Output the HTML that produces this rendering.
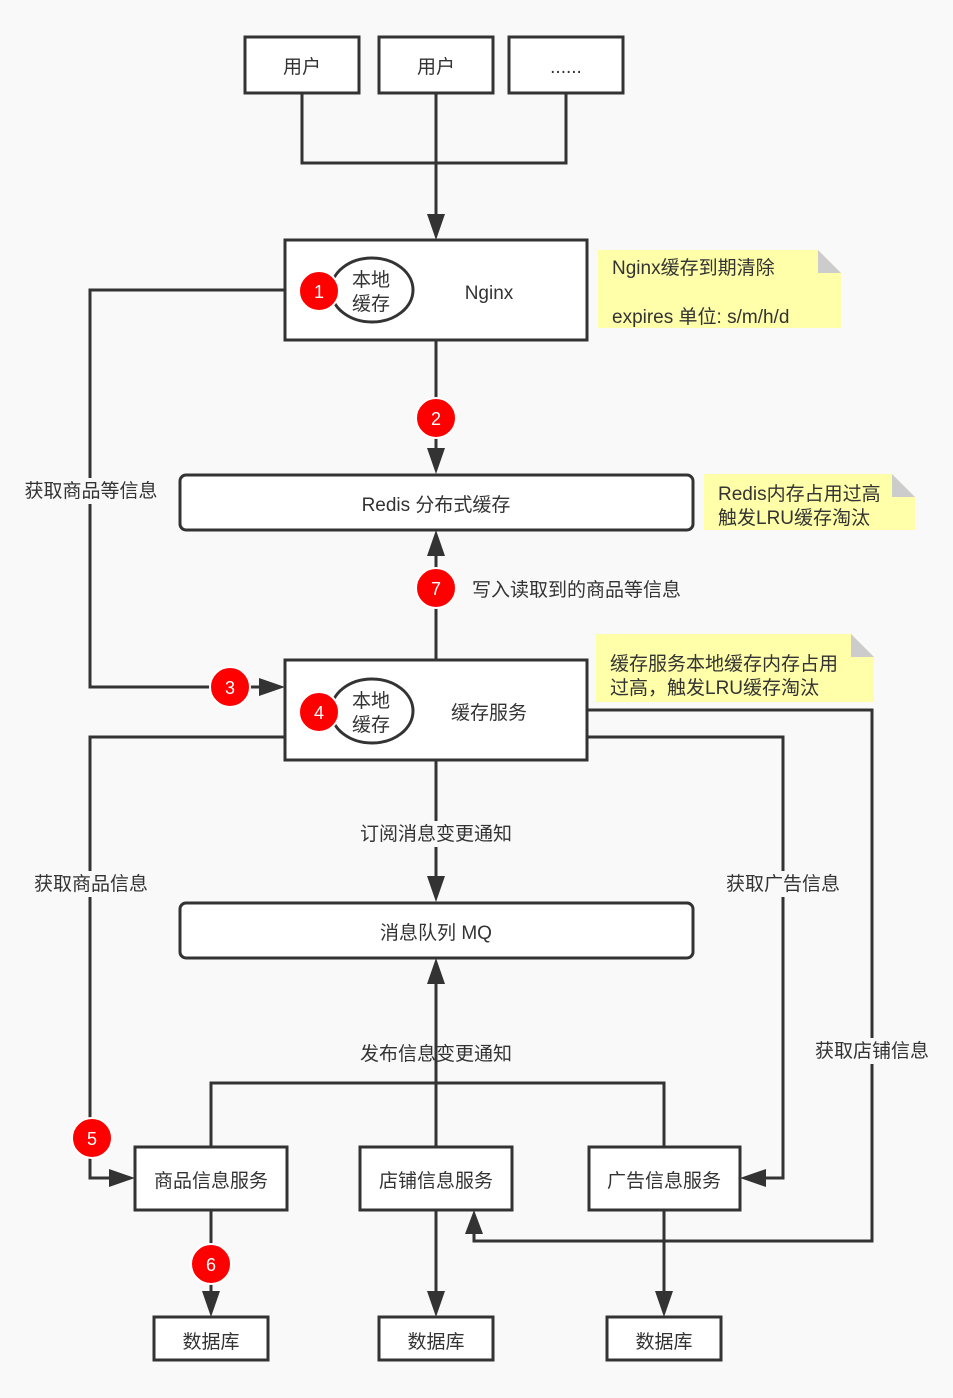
<!DOCTYPE html>
<html><head><meta charset="utf-8"><style>
html,body{margin:0;padding:0;background:#f9f9f9;}
svg{display:block;}
text{font-family:"Liberation Sans","Noto Sans CJK SC",sans-serif;fill:#333;font-size:19px;}
.c{text-anchor:middle;}
.w{fill:#fff;font-size:18px;}
</style></head><body>
<svg width="953" height="1398" viewBox="0 0 953 1398" xmlns="http://www.w3.org/2000/svg">
<rect width="953" height="1398" fill="#f9f9f9"/>
<g fill="none" stroke="#333" stroke-width="3">
<polyline points="302,93 302,163 566,163 566,93"/>
<line x1="436" y1="93" x2="436" y2="222"/>
<line x1="436" y1="340" x2="436" y2="456"/>
<polyline points="285,290 90,290 90,687 266,687"/>
<line x1="436" y1="660" x2="436" y2="548"/>
<polyline points="587,710 872,710 872,1241 474,1241 474,1228"/>
<polyline points="587,737 783,737 783,1178 758,1178"/>
<polyline points="285,737 90,737 90,1178 117,1178"/>
<line x1="436" y1="760" x2="436" y2="884"/>
<line x1="436" y1="1147" x2="436" y2="976"/>
<polyline points="211,1147 211,1083 664,1083 664,1147"/>
<line x1="211" y1="1210" x2="211" y2="1299"/>
<line x1="436" y1="1210" x2="436" y2="1299"/>
<line x1="664" y1="1210" x2="664" y2="1299"/>
</g>
<g fill="#333">
<polygon points="436,240 427,214 445,214"/>
<polygon points="436,474 427,448 445,448"/>
<polygon points="436,530 427,556 445,556"/>
<polygon points="285,687 259,678 259,696"/>
<polygon points="436,902 427,876 445,876"/>
<polygon points="436,958 427,984 445,984"/>
<polygon points="474,1210 465,1234 483,1234"/>
<polygon points="740,1178 766,1169 766,1187"/>
<polygon points="135,1178 109,1169 109,1187"/>
<polygon points="211,1317 202,1291 220,1291"/>
<polygon points="436,1317 427,1291 445,1291"/>
<polygon points="664,1317 655,1291 673,1291"/>
</g>
<g fill="#fff" stroke="#333" stroke-width="3">
<rect x="245" y="37" width="114" height="56"/>
<rect x="379" y="37" width="114" height="56"/>
<rect x="509" y="37" width="114" height="56"/>
<rect x="285" y="240" width="302" height="100"/>
<rect x="180" y="475" width="513" height="55" rx="6"/>
<rect x="285" y="660" width="302" height="100"/>
<rect x="180" y="903" width="513" height="55" rx="6"/>
<rect x="135" y="1147" width="152" height="63"/>
<rect x="360" y="1147" width="152" height="63"/>
<rect x="589" y="1147" width="151" height="63"/>
<rect x="154" y="1317" width="114" height="43"/>
<rect x="379" y="1317" width="114" height="43"/>
<rect x="607" y="1317" width="114" height="43"/>
<ellipse cx="372" cy="290" rx="41" ry="32"/>
<ellipse cx="372" cy="711" rx="41" ry="32"/>
</g>
<polygon points="598,250 818,250 841,273 841,328 598,328" fill="#ffffaa"/>
<polygon points="818,250 841,273 818,273" fill="#ccc"/>
<polygon points="704,474 892,474 915,497 915,530 704,530" fill="#ffffaa"/>
<polygon points="892,474 915,497 892,497" fill="#ccc"/>
<polygon points="596,634 851,634 874,657 874,702 596,702" fill="#ffffaa"/>
<polygon points="851,634 874,657 851,657" fill="#ccc"/>
<g fill="#f9f9f9">
<rect x="20" y="478" width="142" height="26"/>
<rect x="30" y="871" width="122" height="26"/>
<rect x="722" y="871" width="122" height="26"/>
<rect x="811" y="1038" width="122" height="26"/>
<rect x="356" y="821" width="160" height="26"/>
</g>
<g fill="#f00" stroke="#fff" stroke-width="2">
<circle cx="319" cy="291" r="20"/>
<circle cx="436" cy="418" r="20"/>
<circle cx="230" cy="687" r="20"/>
<circle cx="319" cy="712" r="20"/>
<circle cx="436" cy="588" r="20"/>
<circle cx="92" cy="1138" r="20"/>
<circle cx="211" cy="1264" r="20"/>
</g>
<g class="c">
<text class="c w" x="319" y="298">1</text>
<text class="c w" x="436" y="425">2</text>
<text class="c w" x="230" y="694">3</text>
<text class="c w" x="319" y="719">4</text>
<text class="c w" x="436" y="595">7</text>
<text class="c w" x="92" y="1145">5</text>
<text class="c w" x="211" y="1271">6</text>
<text class="c" x="302" y="73">用户</text>
<text class="c" x="436" y="73">用户</text>
<text class="c" x="566" y="73">......</text>
<text class="c" x="371" y="286">本地</text>
<text class="c" x="371" y="310">缓存</text>
<text class="c" x="489" y="299">Nginx</text>
<text class="c" x="436" y="511">Redis 分布式缓存</text>
<text class="c" x="371" y="707">本地</text>
<text class="c" x="371" y="731">缓存</text>
<text class="c" x="489" y="719">缓存服务</text>
<text class="c" x="436" y="939">消息队列 MQ</text>
<text class="c" x="211" y="1187">商品信息服务</text>
<text class="c" x="436" y="1187">店铺信息服务</text>
<text class="c" x="664" y="1187">广告信息服务</text>
<text class="c" x="211" y="1348">数据库</text>
<text class="c" x="436" y="1348">数据库</text>
<text class="c" x="664" y="1348">数据库</text>
<text class="c" x="91" y="497">获取商品等信息</text>
<text class="c" x="91" y="890">获取商品信息</text>
<text class="c" x="783" y="890">获取广告信息</text>
<text class="c" x="872" y="1057">获取店铺信息</text>
<text class="c" x="436" y="840">订阅消息变更通知</text>
<text class="c" x="436" y="1060">发布信息变更通知</text>
</g>
<text x="472" y="596">写入读取到的商品等信息</text>
<text x="612" y="274">Nginx缓存到期清除</text>
<text x="612" y="323">expires 单位: s/m/h/d</text>
<text x="718" y="500">Redis内存占用过高</text>
<text x="718" y="524">触发LRU缓存淘汰</text>
<text x="610" y="670">缓存服务本地缓存内存占用</text>
<text x="610" y="694">过高，触发LRU缓存淘汰</text>
</svg>
</body></html>
